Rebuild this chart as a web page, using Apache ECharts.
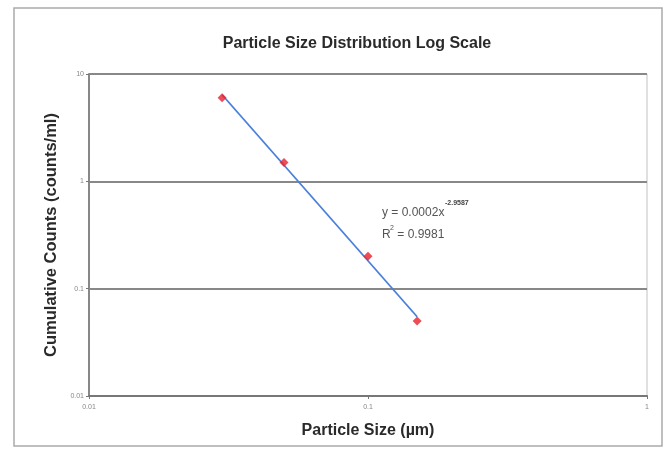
<!DOCTYPE html>
<html><head><meta charset="utf-8">
<script src="https://cdn.jsdelivr.net/npm/echarts@6/dist/echarts.min.js"></script>
<style>html,body{margin:0;padding:0;background:#fff}#c{width:669px;height:452px}</style>
</head><body><div id="c"></div>
<script>
const particleSize = [0.03, 0.05, 0.1, 0.15];
const cumulativeCounts = [6, 1.5, 0.2, 0.05];
const yTicks = [0.01, 0.1, 1, 10];
const xTicks = [0.01, 0.1, 1];
const titleText = 'Particle Size Distribution Log Scale';
const xName = 'Particle Size (µm)';
const yName = 'Cumulative Counts (counts/ml)';

// power-law trendline by least squares on log values
const lx = particleSize.map(Math.log10), ly = cumulativeCounts.map(Math.log10);
const n = lx.length;
const mx = lx.reduce((a,b)=>a+b,0)/n, my = ly.reduce((a,b)=>a+b,0)/n;
let sxy=0, sxx=0, syy=0;
for (let i=0;i<n;i++){sxy+=(lx[i]-mx)*(ly[i]-my);sxx+=(lx[i]-mx)**2;syy+=(ly[i]-my)**2;}
const slope = sxy/sxx, icpt = my - slope*mx;
const r2 = (sxy*sxy)/(sxx*syy);
const xmin = Math.min(...particleSize), xmax = Math.max(...particleSize);
const trend = [[xmin, Math.pow(10, icpt + slope*Math.log10(xmin))],[xmax, Math.pow(10, icpt + slope*Math.log10(xmax))]];

const F = 'Liberation Sans, Arial';
const chart = echarts.init(document.getElementById('c'));
chart.setOption({
  animation:false,
  backgroundColor:'#fff',
  title:{text:titleText,left:352,top:31,textAlign:'center',textStyle:{fontFamily:F,fontSize:16,fontWeight:'bold',color:'#2a2a2a'}},
  grid:{left:89,right:22,top:74,bottom:56,show:true,borderColor:'#c0c0c0',borderWidth:1,backgroundColor:'#fff'},
  xAxis:{type:'log',logBase:10,min:0.01,max:1,
    name:xName,nameLocation:'middle',nameGap:27,
    nameTextStyle:{fontFamily:F,fontSize:16,fontWeight:'bold',color:'#2a2a2a'},
    axisLine:{lineStyle:{color:'#777',width:2}},
    axisTick:{show:true,length:3,lineStyle:{color:'#777'}},
    axisLabel:{fontSize:7,color:'#888',margin:8,fontFamily:F,formatter:v=>String(+v.toPrecision(3))},
    splitLine:{show:false}},
  yAxis:{type:'log',logBase:10,min:0.01,max:10,
    name:yName,nameLocation:'middle',nameGap:24,
    nameTextStyle:{fontFamily:F,fontSize:16.5,fontWeight:'bold',color:'#2a2a2a'},
    axisLine:{show:true,lineStyle:{color:'#888',width:2}},
    axisTick:{show:true,length:3,lineStyle:{color:'#777'}},
    axisLabel:{fontSize:7,color:'#888',margin:5,fontFamily:F,formatter:v=>String(+v.toPrecision(3))},
    splitLine:{show:true,lineStyle:{color:'#888',width:2}}},
  graphic:[
    {type:'rect',shape:{x:14,y:8,width:648,height:438},style:{fill:null,stroke:'#aaa',lineWidth:1.5},z:-10},
    {type:'text',x:382,y:207,style:{text:'y = '+(Math.pow(10,icpt)).toFixed(4)+'x',fontSize:12,fontFamily:F,fill:'#555'}},
    {type:'text',x:445,y:200,style:{text:slope.toFixed(4),fontSize:7,fontWeight:'bold',fontFamily:F,fill:'#444'}},
    {type:'text',x:382,y:229,style:{text:'R',fontSize:12,fontFamily:F,fill:'#555'}},
    {type:'text',x:390,y:225,style:{text:'2',fontSize:7,fontFamily:F,fill:'#555'}},
    {type:'text',x:394,y:229,style:{text:' = '+r2.toFixed(4),fontSize:12,fontFamily:F,fill:'#555'}}
  ],
  series:[
    {type:'line',data:trend,showSymbol:false,symbol:'none',lineStyle:{color:'#4a7fdc',width:1.8},z:2},
    {type:'scatter',data:particleSize.map((x,i)=>[x,cumulativeCounts[i]]),symbol:'diamond',symbolSize:9,itemStyle:{color:'#e8202a'},z:3}
  ]
});
</script></body></html>
